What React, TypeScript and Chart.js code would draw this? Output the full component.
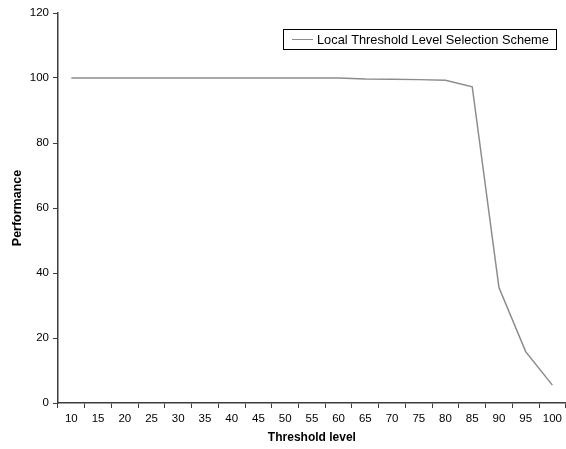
import React, { useEffect, useRef } from "react";
import { Chart, registerables } from "chart.js";

Chart.register(...registerables);

const categories = ["10", "15", "20", "25", "30", "35", "40", "45", "50", "55", "60", "65", "70", "75", "80", "85", "90", "95", "100"];
const performance = [100, 100, 100, 100, 100, 100, 100, 100, 100, 100, 100, 99.7, 99.6, 99.5, 99.3, 97.3, 35.5, 15.8, 5.5];
const seriesLabel = "Local Threshold Level Selection Scheme";
const xTitle = "Threshold level";
const yTitle = "Performance";

const FONT = "'Liberation Sans', Arial, sans-serif";
const LINE_COLOR = "#8c8c8c";
const AXIS_COLOR = "#3c3c3c";

const boxLegend = {
  id: "boxLegend",
  afterDraw(chart: any) {
    const ctx = chart.ctx;
    const ds = chart.data.datasets[0];
    ctx.save();
    ctx.strokeStyle = "#000";
    ctx.lineWidth = 1;
    ctx.strokeRect(283.5, 29.5, 273, 20);
    ctx.strokeStyle = ds.borderColor;
    ctx.lineWidth = 1;
    ctx.beginPath();
    ctx.moveTo(292, 39.5);
    ctx.lineTo(313, 39.5);
    ctx.stroke();
    ctx.fillStyle = "#000";
    ctx.font = `12.8px ${FONT}`;
    ctx.textBaseline = "middle";
    ctx.textAlign = "left";
    ctx.fillText(ds.label, 317, 40);
    ctx.restore();
  },
};

export default function App() {
  const ref = useRef<HTMLCanvasElement>(null);
  useEffect(() => {
    if (!ref.current) return;
    const chart = new Chart(ref.current, {
      type: "line",
      data: {
        labels: categories,
        datasets: [
          {
            label: seriesLabel,
            data: performance,
            borderColor: LINE_COLOR,
            backgroundColor: LINE_COLOR,
            borderWidth: 1.5,
            pointRadius: 0,
            tension: 0,
            fill: false,
          },
        ],
      },
      options: {
        animation: false,
        responsive: false,
        devicePixelRatio: 1,
        layout: { padding: { top: 13, right: 0, left: 0, bottom: 0 } },
        plugins: {
          legend: { display: false },
          tooltip: { enabled: false },
        },
        scales: {
          x: {
            type: "category",
            offset: true,
            afterFit: (s: any) => {
              s.height = 46;
            },
            grid: {
              offset: true,
              drawOnChartArea: false,
              drawTicks: true,
              tickLength: 5,
              tickColor: AXIS_COLOR,
              tickWidth: 1,
            },
            border: { display: true, color: AXIS_COLOR, width: 1.5 },
            ticks: {
              color: "#000",
              font: { family: FONT, size: 11.5 },
              padding: 4,
              maxRotation: 0,
              autoSkip: false,
            },
            title: {
              display: true,
              text: xTitle,
              color: "#000",
              font: { family: FONT, size: 12, weight: "bold" },
              padding: { top: 0, bottom: 4 },
            },
          },
          y: {
            min: 0,
            max: 120,
            afterFit: (s: any) => {
              s.width = 58;
            },
            ticks: {
              stepSize: 20,
              color: "#000",
              font: { family: FONT, size: 11.5 },
              padding: 4,
            },
            grid: {
              drawOnChartArea: false,
              drawTicks: true,
              tickLength: 5,
              tickColor: AXIS_COLOR,
              tickWidth: 1,
            },
            border: { display: true, color: AXIS_COLOR, width: 1.5 },
            title: {
              display: true,
              text: yTitle,
              color: "#000",
              font: { family: FONT, size: 12.5, weight: "bold" },
              padding: { top: 10, bottom: 0 },
            },
          },
        },
      },
      plugins: [boxLegend],
    });
    return () => chart.destroy();
  }, []);
  return (
    <div style={{ position: "absolute", left: 0, top: 0, width: 566, height: 449, background: "#fff" }}>
      <canvas ref={ref} width={566} height={449} style={{ width: 566, height: 449, display: "block" }} />
    </div>
  );
}
